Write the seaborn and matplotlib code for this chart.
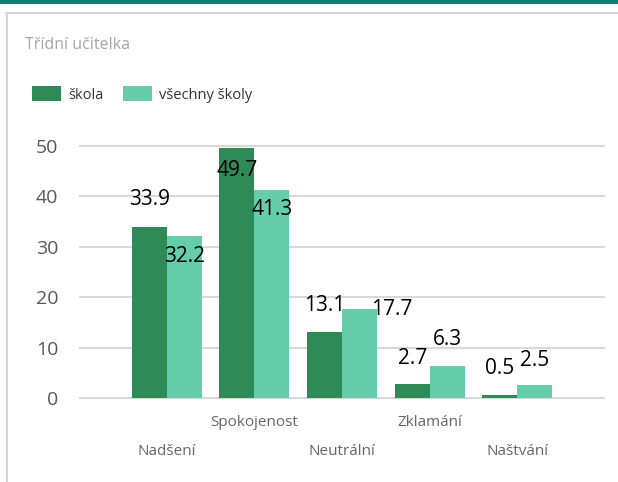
import matplotlib
matplotlib.use("Agg")
import matplotlib.pyplot as plt
import seaborn as sns
import pandas as pd
from matplotlib.patches import Patch, Rectangle
from matplotlib.lines import Line2D

categories = ["Nadšení", "Spokojenost", "Neutrální", "Zklamání", "Naštvání"]
series_names = ["škola", "všechny školy"]
skola = [33.9, 49.7, 13.1, 2.7, 0.5]
vsechny = [32.2, 41.3, 17.7, 6.3, 2.5]
title = "Třídní učitelka"

colors = ["#2e8b57", "#66cdaa"]
# label offsets in points (dx, dy) relative to bar top centre
offs_skola = [(0, 19.6), (0, -16.3), (0, 19.2), (0, 18.9), (0, 19.6)]
offs_vsechny = [(0, -15.2), (0, -14.5), (23, -0.7), (0, 18.9), (0, 18.0)]

df = pd.DataFrame({
    "kategorie": categories * 2,
    "série": [series_names[0]] * 5 + [series_names[1]] * 5,
    "hodnota": skola + vsechny,
})

sns.set_theme(style="white")
plt.rcParams["font.family"] = ["Open Sans", "DejaVu Sans"]

W, H = 618, 482
fig = plt.figure(figsize=(W / 100, H / 100), dpi=100)
fig.patch.set_facecolor("white")

ppu = 252 / 50.0
y0_px, y50_px = 398, 146
bottom = (H - (y0_px + 0.5 * ppu)) / H
top = (H - (y50_px - 0.5 * ppu)) / H
ax = fig.add_axes([79 / W, bottom, 526 / W, top - bottom])

sns.barplot(data=df, x="kategorie", y="hodnota", hue="série", order=categories,
            hue_order=series_names, palette=colors, width=0.8, saturation=1,
            ax=ax, legend=False, linewidth=0)

ax.set_xlim(-1, 5)
ax.set_ylim(-0.5, 50.5)
ax.set_yticks([0, 10, 20, 30, 40, 50])
ax.yaxis.grid(True, color="#d9d9d9", linewidth=1.5)
ax.set_axisbelow(True)
for s in ax.spines.values():
    s.set_visible(False)
ax.set_xlabel("")
ax.set_ylabel("")
ax.tick_params(axis="y", length=0, pad=15, labelsize=14, labelcolor="#595959")
ax.tick_params(axis="x", length=0, labelsize=11, labelcolor="#666666")
ax.set_xticks(range(len(categories)))
ax.set_xticklabels(categories)
for i, t in enumerate(ax.xaxis.get_major_ticks()):
    t.set_pad(10.5 if i % 2 == 1 else 31.5)

for cont, offs, vals in zip(ax.containers, [offs_skola, offs_vsechny], [skola, vsechny]):
    for bar, (dx, dy), v in zip(cont, offs, vals):
        xc = bar.get_x() + bar.get_width() / 2
        ax.annotate(f"{v:.1f}", (xc, bar.get_height()), xytext=(dx, dy),
                    textcoords="offset points", ha="center", va="center",
                    fontsize=15, color="black")

# title
fig.text(25 / W, 1 - 45 / H, title, fontsize=11.5, color="#a6a6a6", va="center", ha="left")

# legend
handles = [Patch(facecolor=c, edgecolor="none") for c in colors]
fig.legend(handles, series_names, loc="upper left", bbox_to_anchor=(32 / W, 1 - 86 / H),
           ncol=2, frameon=False, fontsize=10.5, handlelength=2.0, handleheight=1.25,
           handletextpad=0.5, columnspacing=1.3, borderpad=0, borderaxespad=0,
           labelcolor="#333333")

# card decorations
fig.add_artist(Rectangle((0, 1 - 3.5 / H), 1, 3.5 / H, transform=fig.transFigure,
                         facecolor="#0f8078", edgecolor="none"))
fig.add_artist(Line2D([6.5 / W, 6.5 / W], [0, 1 - 13 / H], transform=fig.transFigure,
                      color="#d4d4d4", linewidth=1.5))
fig.add_artist(Line2D([6 / W, 1], [1 - 13 / H, 1 - 13 / H], transform=fig.transFigure,
                      color="#d4d4d4", linewidth=1.5))

fig.savefig("out.png", dpi=100, facecolor="white")
